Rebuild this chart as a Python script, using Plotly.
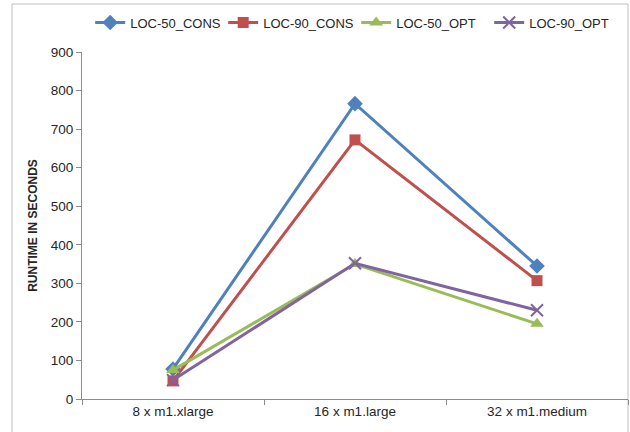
import plotly.graph_objects as go

categories = ["8 x m1.xlarge", "16 x m1.large", "32 x m1.medium"]
loc50_cons = [78, 766, 345]
loc90_cons = [47, 672, 307]
loc50_opt = [75, 350, 195]
loc90_opt = [49, 352, 230]
y_ticks = [0, 100, 200, 300, 400, 500, 600, 700, 800, 900]

series = [
    ("LOC-50_CONS", loc50_cons, "#4F81BD", "diamond", 12),
    ("LOC-90_CONS", loc90_cons, "#C0504D", "square", 11),
    ("LOC-50_OPT", loc50_opt, "#9BBB59", "triangle-up", 12),
    ("LOC-90_OPT", loc90_opt, "#8064A2", "x-thin", 12),
]

fig = go.Figure()
for name, vals, color, sym, size in series:
    marker = dict(symbol=sym, size=size, color=color)
    if sym == "x-thin":
        marker["line"] = dict(color=color, width=2)
    fig.add_trace(go.Scatter(
        x=categories, y=vals, name=name, mode="lines+markers",
        line=dict(color=color, width=3), marker=marker,
    ))

fig.update_layout(
    width=630, height=432,
    margin=dict(l=82, r=2, t=52, b=33),
    paper_bgcolor="white", plot_bgcolor="white",
    font=dict(family="Liberation Sans", size=13, color="#262626"),
    showlegend=True,
    legend=dict(orientation="h", x=0.015, y=1.085, xanchor="left", yanchor="middle",
                font=dict(size=13), itemwidth=30, tracegroupgap=0,
                entrywidth=88, entrywidthmode="pixels",
                bgcolor="rgba(0,0,0,0)"),
    shapes=[dict(type="rect", xref="paper", yref="paper",
                 x0=(12 - 82) / 546, x1=1.0, y0=-0.2, y1=(399 - 4) / 347,
                 line=dict(color="#BFBFBF", width=1), layer="below")],
)
fig.update_xaxes(type="category", showline=True, linecolor="#8C8C8C", linewidth=1,
                 ticks="outside", tickson="boundaries", ticklen=5, tickcolor="#8C8C8C",
                 showgrid=False, range=[-0.5, 2.5], tickfont=dict(size=13.5))
fig.update_yaxes(range=[0, 900], tickvals=y_ticks, showline=True, linecolor="#8C8C8C",
                 linewidth=1, ticks="outside", ticklen=5, tickcolor="#8C8C8C",
                 showgrid=False, zeroline=False, tickfont=dict(size=13.5),
                 title=dict(text="<b>RUNTIME IN SECONDS</b>", font=dict(size=12), standoff=10))

fig.write_html("out.html")
